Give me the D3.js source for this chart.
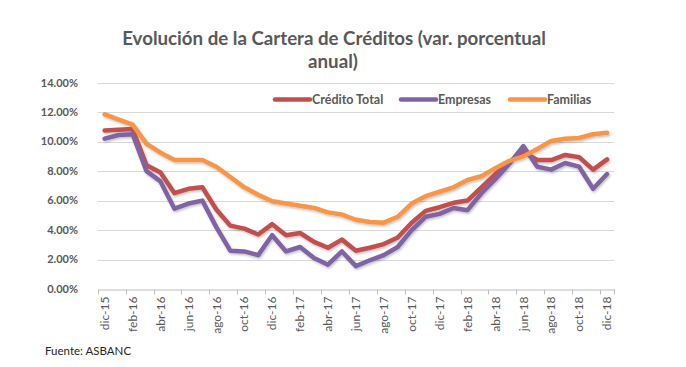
<!DOCTYPE html>
<html lang="es">
<head>
  <meta charset="utf-8">
  <title>Evolución de la Cartera de Créditos</title>
  <script src="https://cdnjs.cloudflare.com/ajax/libs/d3/7.8.5/d3.min.js"></script>
  <style type="text/css">
  body {
    margin: 0;
    background: #fff;
  }
  #chart {
    display: block;
  }
  .tick-lbl {
    font-family: 'Lato', 'Liberation Sans', sans-serif;
    font-weight: bold;
    font-size: 11px;
    fill: #595959;
  }
  .x-lbl {
    font-family: 'Lato', 'Liberation Sans', sans-serif;
    font-size: 12px;
    fill: #595959;
  }
  </style>
</head>
<body>
  <svg id="chart"></svg>
  <script type="text/javascript">
  // monthly categories, dic-15 .. dic-18
  var months = ["dic-15","ene-16","feb-16","mar-16","abr-16","may-16","jun-16","jul-16","ago-16","sep-16","oct-16","nov-16",
    "dic-16","ene-17","feb-17","mar-17","abr-17","may-17","jun-17","jul-17","ago-17","sep-17","oct-17","nov-17",
    "dic-17","ene-18","feb-18","mar-18","abr-18","may-18","jun-18","jul-18","ago-18","sep-18","oct-18","nov-18","dic-18"];

  // annual % change
  var creditoTotal = [10.75,10.8,10.85,8.4,7.9,6.5,6.8,6.9,5.4,4.3,4.1,3.7,
    4.4,3.65,3.8,3.2,2.8,3.35,2.6,2.8,3.05,3.5,4.5,5.3,
    5.55,5.85,6.0,6.9,7.8,8.6,9.3,8.75,8.75,9.1,8.95,8.1,8.8];
  var empresas = [10.2,10.45,10.5,8.0,7.3,5.45,5.8,6.0,4.2,2.6,2.55,2.3,
    3.65,2.55,2.85,2.1,1.65,2.55,1.55,1.95,2.3,2.85,4.0,4.9,
    5.1,5.5,5.35,6.5,7.45,8.5,9.7,8.3,8.1,8.55,8.3,6.8,7.8];
  var familias = [11.85,11.5,11.15,9.85,9.25,8.75,8.75,8.75,8.3,7.6,6.9,6.4,
    5.95,5.8,5.65,5.5,5.2,5.05,4.7,4.55,4.5,4.9,5.8,6.3,
    6.6,6.9,7.4,7.65,8.2,8.7,9.0,9.5,10.05,10.2,10.25,10.5,10.6];

  var seriesNames = ["Crédito Total", "Empresas", "Familias"];
  var seriesColors = ["#C0504D", "#8064A2", "#F79646"];
  var yTicks = [0, 2, 4, 6, 8, 10, 12, 14];

  var w = 686;
  var h = 367;

  var svg = d3.select("#chart")
    .attr("width", w)
    .attr("height", h);

  var x = d3.scaleBand()
    .domain(months)
    .range([97.7, 614]);

  var y = d3.scaleLinear()
    .domain([0, 14])
    .range([289, 82.7]);

  // soft shadow under the lines, like the excel original
  var defs = svg.append("defs");
  var f = defs.append("filter").attr("id", "shadow")
    .attr("x", "-5%").attr("y", "-5%").attr("width", "110%").attr("height", "120%");
  f.append("feDropShadow")
    .attr("dx", 1).attr("dy", 1.5).attr("stdDeviation", 1.2)
    .attr("flood-color", "#000").attr("flood-opacity", 0.25);

  // gridlines
  svg.append("g")
    .selectAll("line")
    .data(yTicks.slice(1))
    .enter()
    .append("line")
    .attr("x1", x.range()[0])
    .attr("x2", x.range()[1])
    .attr("y1", function(d) { return Math.round(y(d)) + 0.5; })
    .attr("y2", function(d) { return Math.round(y(d)) + 0.5; })
    .style("stroke", "#d9d9d9")
    .style("stroke-width", 1);

  // y labels
  svg.append("g")
    .selectAll("text")
    .data(yTicks)
    .enter()
    .append("text")
    .attr("class", "tick-lbl")
    .attr("x", 78)
    .attr("y", function(d) { return y(d); })
    .attr("dy", "0.35em")
    .attr("text-anchor", "end")
    .text(function(d) { return d3.format(".2%")(d / 100); });

  // x axis, labels every 2 categories
  var xAxis = d3.axisBottom(x)
    .tickValues(months.filter(function(d, i) { return i % 2 === 0; }))
    .tickSize(0)
    .tickPadding(7);

  var gx = svg.append("g")
    .attr("transform", "translate(0," + (Math.round(y(0)) + 0.5) + ")")
    .call(xAxis);
  gx.select(".domain").style("stroke", "#bfbfbf");
  gx.selectAll("text")
    .attr("class", "x-lbl")
    .attr("transform", "rotate(-90)")
    .attr("text-anchor", "end")
    .attr("x", -7)
    .attr("y", 0)
    .attr("dy", "0.35em");

  // tick marks between categories
  var bounds = d3.range(0, months.length, 2).map(function(i) { return x(months[i]); });
  bounds.push(x.range()[1]);
  gx.selectAll(".mark")
    .data(bounds)
    .enter()
    .append("line")
    .attr("x1", function(d) { return Math.round(d) + 0.5; })
    .attr("x2", function(d) { return Math.round(d) + 0.5; })
    .attr("y1", 0)
    .attr("y2", 5)
    .style("stroke", "#bfbfbf");

  // lines
  var allSeries = [creditoTotal, empresas, familias];
  var line = d3.line()
    .x(function(d, i) { return x(months[i]) + x.bandwidth() / 2; })
    .y(function(d) { return y(d); });

  svg.append("g")
    .attr("filter", "url(#shadow)")
    .selectAll("path")
    .data(allSeries)
    .enter()
    .append("path")
    .attr("d", line)
    .style("fill", "none")
    .style("stroke", function(d, i) { return seriesColors[i]; })
    .style("stroke-width", 4.5)
    .style("stroke-linejoin", "round")
    .style("stroke-linecap", "round");

  // legend
  var legendX = [275, 401, 510];
  var legend = svg.append("g")
    .selectAll("g")
    .data(seriesNames)
    .enter()
    .append("g")
    .attr("transform", function(d, i) { return "translate(" + legendX[i] + ",99.5)"; });
  legend.append("line")
    .attr("x1", 0).attr("x2", 35)
    .style("stroke", function(d, i) { return seriesColors[i]; })
    .style("stroke-width", 4.5)
    .style("stroke-linecap", "round");
  legend.append("text")
    .attr("x", 37)
    .attr("dy", "0.35em")
    .style("font-family", "Lato, 'Liberation Sans', sans-serif")
    .style("font-weight", "bold")
    .style("font-size", "12.5px")
    .style("fill", "#595959")
    .text(function(d) { return d; });

  // title
  var title = svg.append("text")
    .attr("text-anchor", "middle")
    .style("font-family", "Lato, 'Liberation Sans', sans-serif")
    .style("font-weight", "bold")
    .style("font-size", "18.7px")
    .style("fill", "#595959");
  title.append("tspan").attr("x", 334).attr("y", 45)
    .text("Evolución de la Cartera de Créditos (var. porcentual");
  title.append("tspan").attr("x", 333).attr("y", 68)
    .text("anual)");

  // source
  svg.append("text")
    .attr("x", 45)
    .attr("y", 355)
    .style("font-family", "Lato, 'Liberation Sans', sans-serif")
    .style("font-size", "11.5px")
    .style("fill", "#262626")
    .text("Fuente: ASBANC");
  </script>
</body>
</html>
